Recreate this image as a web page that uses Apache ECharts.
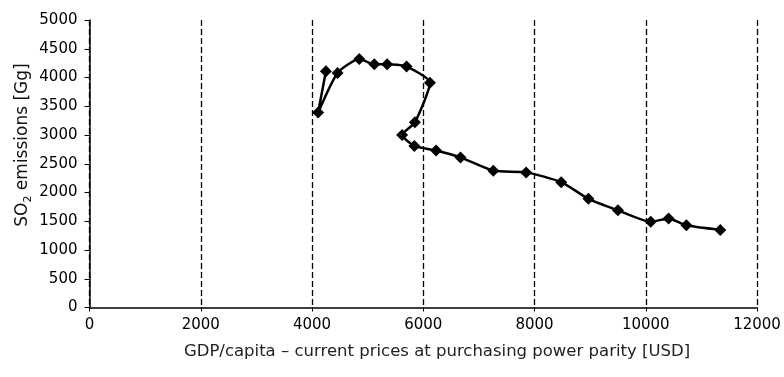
<!DOCTYPE html>
<html>
<head>
<meta charset="utf-8">
<script src="https://cdn.jsdelivr.net/npm/echarts@6/dist/echarts.min.js"></script>
<style>
html,body{margin:0;padding:0;background:#fff;}
#chart{width:784px;height:377px;}
</style>
</head>
<body>
<div id="chart"></div>
<script>
// GDP per capita (USD, PPP) – in chronological order of the path
var gdpValues = [4250, 4110, 4460, 4850, 5120, 5350, 5700, 6120, 5850, 5620, 5840, 6230, 6670, 7260, 7850, 8480, 8970, 9500, 10090, 10410, 10730, 11340];
// SO2 emissions (Gg)
var so2Values = [4110, 3390, 4080, 4320, 4230, 4230, 4190, 3910, 3220, 3000, 2810, 2730, 2610, 2380, 2350, 2180, 1890, 1690, 1490, 1550, 1430, 1350];
var xTicks = [0, 2000, 4000, 6000, 8000, 10000, 12000];
var yTicks = [0, 500, 1000, 1500, 2000, 2500, 3000, 3500, 4000, 4500, 5000];
var xTitle = 'GDP/capita \u2013 current prices at purchasing power parity [USD]';
var yTitleParts = ['SO', '2', ' emissions [Gg]'];

var FONT = 'DejaVu Sans';
var points = gdpValues.map(function (x, i) { return [x, so2Values[i]]; });
function plain(v) { return String(v); }

var chart = echarts.init(document.getElementById('chart'), null, {renderer: 'canvas'});
chart.setOption({
  backgroundColor: '#fff',
  animation: false,
  grid: {left: 89.5, right: 27, top: 20, bottom: 69.5, containLabel: false},
  xAxis: {
    type: 'value',
    min: xTicks[0], max: xTicks[xTicks.length - 1], interval: 2000,
    axisLine: {show: true, onZero: false, lineStyle: {color: '#000', width: 1.5}},
    axisTick: {show: true, inside: false, length: 4, lineStyle: {color: '#000', width: 1}},
    axisLabel: {color: '#000', fontSize: 15, fontFamily: FONT, margin: 10, formatter: plain},
    splitLine: {show: true, lineStyle: {color: '#000', width: 1.3, type: [6, 3]}}
  },
  yAxis: {
    type: 'value',
    min: yTicks[0], max: yTicks[yTicks.length - 1], interval: 500,
    axisLine: {show: true, onZero: false, lineStyle: {color: '#000', width: 1.5}},
    axisTick: {show: true, inside: false, length: 5, lineStyle: {color: '#000', width: 1}},
    axisLabel: {color: '#000', fontSize: 15, fontFamily: FONT, margin: 12, formatter: plain},
    splitLine: {show: false}
  },
  series: [{
    type: 'line',
    data: points,
    smooth: 0.2,
    symbol: 'diamond',
    symbolSize: 12,
    itemStyle: {color: '#000'},
    lineStyle: {color: '#000', width: 2.5}
  }],
  graphic: [
    {
      type: 'text',
      x: 437, y: 352,
      style: {
        text: xTitle,
        font: '16.5px "' + FONT + '"',
        fill: '#222',
        align: 'center',
        verticalAlign: 'middle'
      }
    },
    {
      type: 'text',
      x: 23, y: 145,
      rotation: Math.PI / 2,
      style: {
        text: '{a|' + yTitleParts[0] + '}{s|' + yTitleParts[1] + '}{a|' + yTitleParts[2] + '}',
        align: 'center',
        verticalAlign: 'middle',
        rich: {
          a: {fontSize: 17, fontFamily: FONT, fill: '#111', lineHeight: 22},
          s: {fontSize: 11, fontFamily: FONT, fill: '#111', lineHeight: 12, verticalAlign: 'bottom'}
        }
      }
    }
  ]
});
</script>
</body>
</html>
